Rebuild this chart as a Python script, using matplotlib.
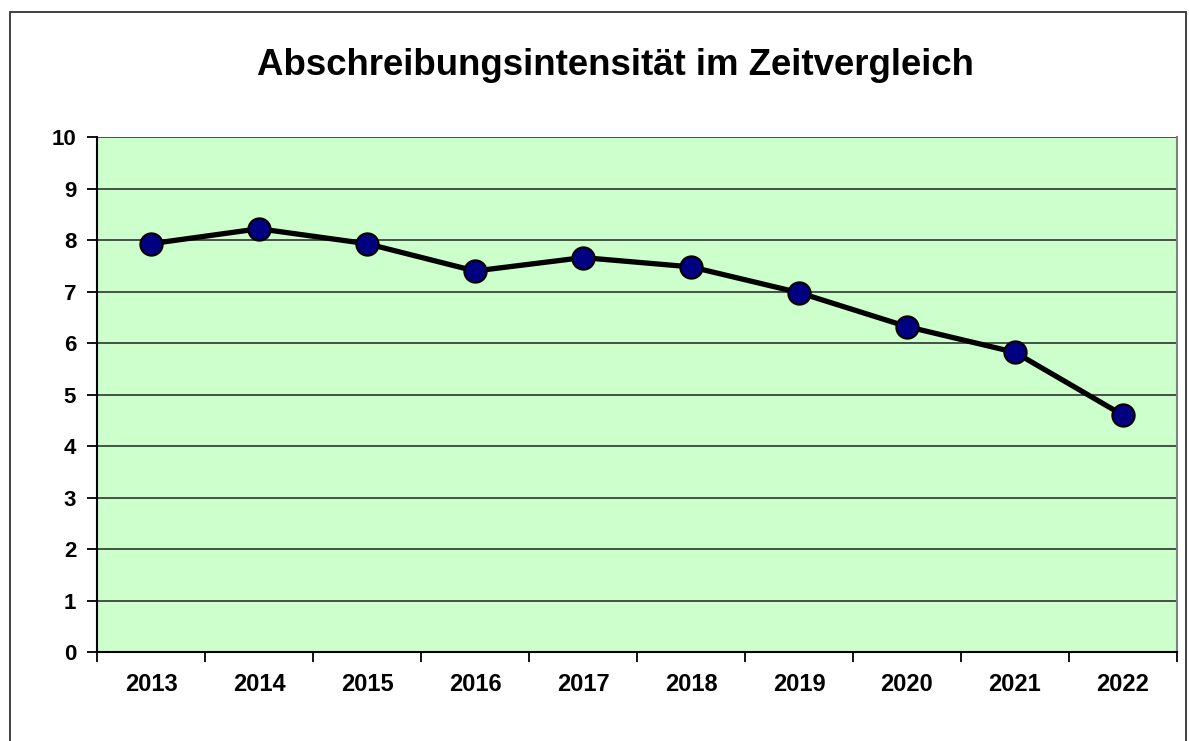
import matplotlib.pyplot as plt
from matplotlib.patches import Rectangle
from matplotlib.ticker import FixedLocator

# Daten
jahre = ["2013", "2014", "2015", "2016", "2017", "2018", "2019", "2020", "2021", "2022"]
werte = [7.93, 8.22, 7.93, 7.40, 7.66, 7.48, 6.98, 6.32, 5.82, 4.60]

plt.rcParams['font.family'] = ['Liberation Sans', 'DejaVu Sans']

fig = plt.figure(figsize=(11.89, 7.41), dpi=100)
ax = fig.add_axes([0.0816, 0.12, 0.9083, 0.695])

# Rahmen um die Grafik
fig.patches.append(Rectangle((10 / 1189, -0.01), 1176 / 1189, 1 - 12 / 741 + 0.01,
                             transform=fig.transFigure, fill=False,
                             edgecolor='#333333', linewidth=1.3))

ax.set_facecolor('#CCFFCC')
x = list(range(len(jahre)))
ax.plot(x, werte, color='black', linewidth=3.8, marker='o', markersize=16,
        markerfacecolor='#000080', markeredgecolor='black', markeredgewidth=1.5, zorder=3)

ax.set_xlim(-0.5, len(jahre) - 0.5)
ax.set_ylim(0, 10)
ax.set_yticks(range(0, 11))
ax.yaxis.grid(True, color='#222222', linewidth=1.1)
ax.set_axisbelow(True)

ax.set_xticks(x)
ax.set_xticklabels(jahre, fontsize=17, fontweight='bold')
ax.xaxis.set_minor_locator(FixedLocator([i - 0.5 for i in range(len(jahre) + 1)]))
ax.tick_params(axis='x', which='major', length=0, pad=15)
ax.tick_params(axis='x', which='minor', length=7, width=1.3, direction='out')
ax.tick_params(axis='y', length=7, width=1.3, labelsize=16, pad=8)
for lbl in ax.get_yticklabels():
    lbl.set_fontweight('bold')

ax.spines['top'].set_visible(False)
ax.spines['right'].set_color('#808080')
ax.spines['right'].set_linewidth(1.5)
ax.spines['left'].set_linewidth(1.5)
ax.spines['bottom'].set_linewidth(1.5)

fig.text(0.518, 0.912, "Abschreibungsintensität im Zeitvergleich",
         ha='center', va='center', fontsize=26.4, fontweight='bold')

fig.savefig("out.png", dpi=100)
